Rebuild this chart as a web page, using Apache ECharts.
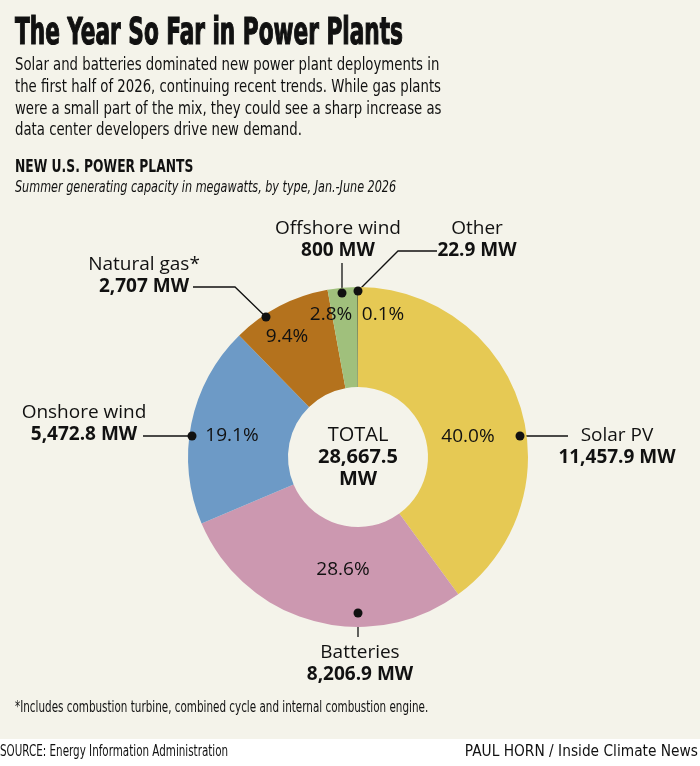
<!DOCTYPE html>
<html>
<head>
<meta charset="utf-8">
<script src="https://cdn.jsdelivr.net/npm/echarts@6/dist/echarts.min.js"></script>
<style>
  html, body { margin: 0; padding: 0; background: #f4f3ea; }
  #main { width: 700px; height: 766px; }
</style>
</head>
<body>
<div id="main"></div>
<script>
// data
const categories = ['Solar PV', 'Batteries', 'Onshore wind', 'Natural gas*', 'Offshore wind', 'Other'];
const capacityMW = [11457.9, 8206.9, 5472.8, 2707, 800, 22.9];
const sliceColors = ['#e6c954', '#cc98b0', '#6d9ac6', '#b4721d', '#a0c07c', '#56632c'];

// where the annotations sit (label centre, leader line from dot outwards)
const labelSpots = [
    {label: [617, 447], dot: [520, 436], line: [[520, 436], [544, 436], [568, 436]]},
    {label: [360, 664], dot: [358, 613], line: [[358, 613], [358, 625], [358, 637]]},
    {label: [84, 424], dot: [192, 436], line: [[192, 436], [168, 436], [143, 436]]},
    {label: [144, 276], dot: [266, 317], line: [[266, 317], [235, 287], [193, 287]]},
    {label: [338, 240], dot: [342, 293], line: [[342, 293], [342, 278], [342, 263]]},
    {label: [477, 240], dot: [358, 291], line: [[358, 291], [398, 251], [437, 251]]}
];
const pctSpots = [[468, 437], [343, 570], [232, 436], [287, 337], [331, 315], [383, 315]];

const total = capacityMW.reduce((a, b) => a + b, 0);
const fmtMW = v => v.toLocaleString('en-US', {maximumFractionDigits: 1}) + ' MW';
const pieData = categories.map((name, i) => ({
    name: name,
    value: capacityMW[i],
    itemStyle: {color: sliceColors[i]}
}));

const CENTER = [358, 457];
const RADIUS = [70, 170];
// no condensed Myriad here, so squeeze DejaVu Condensed sideways
const narrow = "'DejaVu Sans Condensed', 'DejaVu Sans', sans-serif";
const labelFont = "'Open Sans', 'Noto Sans', sans-serif";

const chart = echarts.init(document.getElementById('main'));

const squeezed = (text, x, y, font, sx, align, lh) => ({
    type: 'text', x: x, y: y, scaleX: sx, silent: true,
    style: {text: text, font: font, fill: '#111', align: align || 'left',
        verticalAlign: 'top', lineHeight: lh}
});

const overlay = {
    type: 'pie',
    center: CENTER,
    radius: RADIUS,
    startAngle: 90,
    silent: true,
    avoidLabelOverlap: false,
    emphasis: {disabled: true},
    itemStyle: {color: 'rgba(0,0,0,0)'},
    labelLine: {show: false}
};

const heading = squeezed('The Year So Far in Power Plants', 15, 16, `bold 37px ${narrow}`, 0.65);
heading.style.stroke = '#111';
heading.style.lineWidth = 1.2;

const option = {
    backgroundColor: '#f4f3ea',
    animation: false,
    graphic: [
        {type: 'rect', left: 0, top: 739, shape: {width: 700, height: 27}, style: {fill: '#ffffff'}},
        heading,
        squeezed('Solar and batteries dominated new power plant deployments in\n' +
            'the first half of 2026, continuing recent trends. While gas plants\n' +
            'were a small part of the mix, they could see a sharp increase as\n' +
            'data center developers drive new demand.', 15, 55, `18px ${narrow}`, 0.82, 'left', 21.6),
        squeezed('NEW U.S. POWER PLANTS', 15, 159, `bold 17px ${narrow}`, 0.805),
        squeezed('Summer generating capacity in megawatts, by type, Jan.-June 2026', 15, 180,
            `italic 16px ${narrow}`, 0.779),
        squeezed('*Includes combustion turbine, combined cycle and internal combustion engine.', 15, 701,
            `15px ${narrow}`, 0.77),
        squeezed('SOURCE: Energy Information Administration', 0, 745, `15px ${narrow}`, 0.768),
        squeezed('PAUL HORN / Inside Climate News', 698, 745, `15px ${narrow}`, 1.02, 'right'),
        {type: 'text', x: CENTER[0], y: CENTER[1], style: {
            text: '{a|TOTAL}\n{b|' + total.toLocaleString('en-US', {maximumFractionDigits: 1}) + '}\n{b|MW}',
            align: 'center', verticalAlign: 'middle',
            rich: {
                a: {font: `20px ${labelFont}`, lineHeight: 22, fill: '#111', align: 'center'},
                b: {font: `bold 20px ${labelFont}`, lineHeight: 22, fill: '#111', align: 'center'}
            }}}
    ],
    series: [
        {
            type: 'pie',
            center: CENTER,
            radius: RADIUS,
            startAngle: 90,
            clockwise: true,
            silent: true,
            avoidLabelOverlap: false,
            emphasis: {disabled: true},
            data: pieData,
            label: {
                show: true,
                position: 'outside',
                formatter: p => '{n|' + p.name + '}\n{v|' + fmtMW(p.value) + '}',
                rich: {
                    n: {fontFamily: labelFont, fontSize: 19, lineHeight: 22, color: '#111', align: 'center'},
                    v: {fontFamily: labelFont, fontSize: 19, fontWeight: 'bold', lineHeight: 22, color: '#111', align: 'center'}
                }
            },
            labelLine: {show: true, lineStyle: {color: '#111', width: 1.3}},
            labelLayout: p => {
                const s = labelSpots[p.dataIndex];
                return {x: s.label[0], y: s.label[1], align: 'center', verticalAlign: 'middle',
                    labelLinePoints: s.line};
            }
        },
        Object.assign({}, overlay, {
            data: pieData.map(d => ({name: d.name, value: d.value})),
            label: {
                show: true, position: 'inside',
                formatter: p => (p.value / total * 100).toFixed(1) + '%',
                fontFamily: labelFont, fontSize: 19, color: '#111'
            },
            labelLayout: p => ({x: pctSpots[p.dataIndex][0], y: pctSpots[p.dataIndex][1],
                align: 'center', verticalAlign: 'middle'})
        }),
        Object.assign({}, overlay, {
            data: pieData.map(d => ({name: d.name, value: d.value})),
            label: {
                show: true, position: 'inside',
                formatter: '{d| }',
                rich: {d: {width: 9, height: 9, borderRadius: 4.5, backgroundColor: '#111', fontSize: 1}}
            },
            labelLayout: p => ({x: labelSpots[p.dataIndex].dot[0], y: labelSpots[p.dataIndex].dot[1],
                align: 'center', verticalAlign: 'middle'})
        })
    ]
};

chart.setOption(option);
</script>
</body>
</html>
